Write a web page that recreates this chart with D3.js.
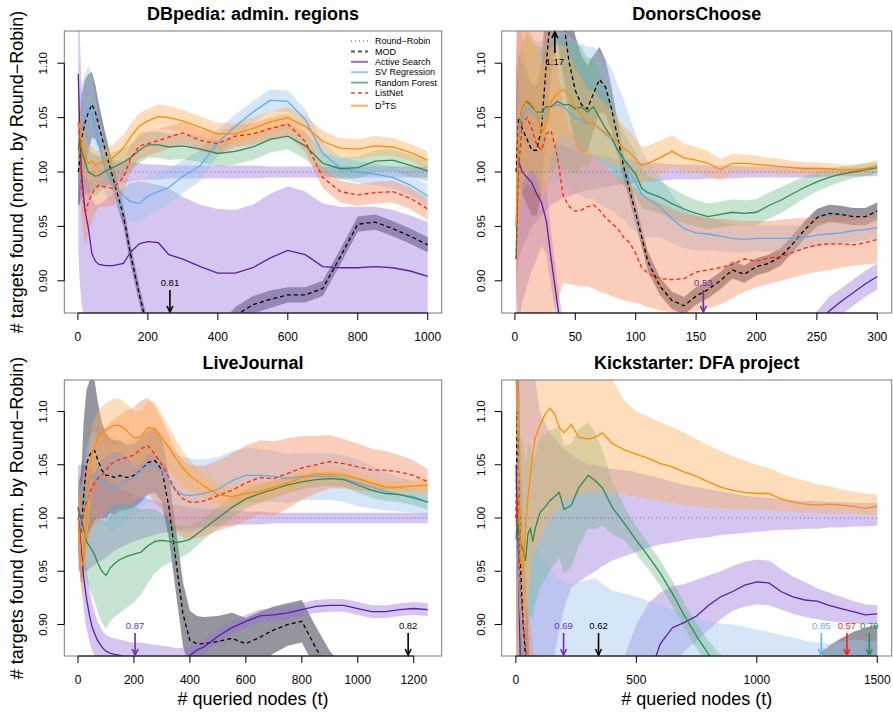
<!DOCTYPE html>
<html>
<head>
<meta charset="utf-8">
<script src="https://cdn.jsdelivr.net/npm/d3@7"></script>
<style>
body { margin: 0; background: #fff; }
svg { font-family: "Liberation Sans", Arial, Helvetica, sans-serif; }
</style>
</head>
<body>
<div id="chart"></div>
<script>
// ----------------
// DATA
// ----------------

const seriesKeys = ["rr", "mod", "as", "sv", "rf", "ln", "d3"];
const seriesNames = ["Round\u2212Robin", "MOD", "Active Search", "SV Regression", "Random Forest", "ListNet", "D3TS"];
const yTicks = [0.90, 0.95, 1.00, 1.05, 1.10];
const yRange = [0.88, 1.12];
const rrLevel = 1.0;

// --- DBpedia: admin. regions
const t_dbp = [1,5,10,20,30,40,50,60,80,100, 130,150,175,200,230,260,300,350,400,450, 500,550,600,650,700,750,800,850,900,950, 1000];
const xt_dbp = [0,200,400,600,800,1000];
const dbp_rr_w = [0.03,0.03,0.025,0.02,0.02,0.018,0.016,0.015,0.013,0.011, 0.01,0.009,0.008,0.007,0.007,0.006,0.006,0.006,0.006,0.006, 0.006,0.005,0.005,0.005,0.005,0.005,0.005,0.005,0.005,0.005, 0.005];
const dbp_mod = [1.0,1.01,1.03,1.045,1.055,1.062,1.055,1.042,1.018,0.995, 0.96,0.925,0.888,0.855,0.83,0.81,0.815,0.83,0.85,0.868, 0.878,0.883,0.887,0.887,0.893,0.922,0.952,0.954,0.948,0.941, 0.933];
const dbp_mod_w = [0.03,0.04,0.04,0.04,0.035,0.03,0.025,0.02,0.015,0.012, 0.01,0.009,0.008,0.008,0.008,0.008,0.008,0.008,0.008,0.008, 0.008,0.008,0.007,0.007,0.007,0.007,0.007,0.007,0.007,0.007, 0.007];
const dbp_as = [1.09,1.04,1.0,0.965,0.948,0.925,0.918,0.915,0.914,0.914, 0.916,0.926,0.934,0.936,0.935,0.924,0.92,0.913,0.907,0.907, 0.912,0.921,0.928,0.924,0.913,0.912,0.912,0.913,0.912,0.909, 0.904];
const dbp_as_lo = [0.93,0.9,0.88,0.86,0.8,0.8,0.8,0.8,0.8,0.8, 0.8,0.8,0.8,0.8,0.8,0.8,0.8,0.8,0.8,0.8, 0.8,0.8,0.8,0.8,0.8,0.8,0.8,0.8,0.8,0.8, 0.8];
const dbp_as_hi = [1.13,1.13,1.08,1.02,0.99,0.975,0.97,0.97,0.975,0.98, 0.985,0.99,0.992,0.99,0.988,0.985,0.977,0.97,0.966,0.965, 0.97,0.98,0.987,0.982,0.971,0.968,0.968,0.968,0.965,0.96, 0.954];
const dbp_sv = [1.02,1.03,1.04,1.05,1.058,1.055,1.04,1.025,1.0,0.99, 0.978,0.973,0.971,0.978,0.982,0.986,0.996,1.006,1.027,1.042, 1.055,1.066,1.065,1.048,1.017,1.004,1.0,0.998,0.995,0.988, 0.978];
const dbp_sv_w = [0.04,0.04,0.04,0.04,0.04,0.035,0.03,0.025,0.022,0.02, 0.018,0.018,0.018,0.018,0.017,0.016,0.015,0.014,0.012,0.011, 0.01,0.01,0.01,0.01,0.01,0.01,0.01,0.01,0.01,0.01, 0.01];
const dbp_rf = [1.02,1.03,1.02,1.01,1.0,0.998,0.996,0.997,1.001,1.004, 1.009,1.013,1.02,1.025,1.025,1.023,1.024,1.021,1.017,1.019, 1.023,1.03,1.033,1.024,1.008,1.003,1.004,1.01,1.011,1.006, 1.001];
const dbp_rf_w = [0.03,0.03,0.03,0.025,0.022,0.02,0.018,0.016,0.015,0.014, 0.013,0.012,0.012,0.012,0.012,0.012,0.012,0.012,0.012,0.012, 0.012,0.012,0.012,0.012,0.01,0.01,0.01,0.01,0.01,0.01, 0.01];
const dbp_ln = [1.045,1.03,0.99,0.962,0.972,0.98,0.985,0.988,0.986,0.985, 0.995,1.012,1.024,1.026,1.029,1.032,1.036,1.029,1.026,1.033, 1.035,1.04,1.044,1.028,0.995,0.982,0.979,0.981,0.982,0.976, 0.966];
const dbp_ln_w = [0.03,0.03,0.03,0.03,0.028,0.025,0.022,0.02,0.018,0.016, 0.014,0.012,0.012,0.011,0.011,0.01,0.01,0.01,0.01,0.01, 0.01,0.01,0.01,0.01,0.01,0.01,0.01,0.01,0.01,0.01, 0.01];
const dbp_d3 = [1.04,1.045,1.025,1.015,1.008,1.01,1.006,1.008,1.011,1.013, 1.022,1.032,1.042,1.047,1.051,1.05,1.047,1.041,1.035,1.035, 1.04,1.046,1.05,1.042,1.028,1.022,1.021,1.024,1.023,1.018, 1.011];
const dbp_d3_w = [0.03,0.03,0.025,0.02,0.016,0.014,0.013,0.012,0.012,0.012, 0.012,0.012,0.012,0.011,0.011,0.011,0.01,0.01,0.01,0.01, 0.01,0.01,0.01,0.01,0.01,0.009,0.009,0.009,0.008,0.008, 0.008];
const dbp_arrows = [["mod", 263, "0.81"]];

// --- DonorsChoose
const t_dc = [1,3,6,10,14,18,22,26,30, 35,40,45,50,55,60,65,70,75,80,85,90,95,100, 105,110, 120,130,140,150,160,170,180,190,200,210,220,230,240,250,260,270,280,290,300];
const xt_dc = [0,50,100,150,200,250,300];
const dc_rr_w = [0.1,0.08,0.07,0.06,0.05,0.045,0.04,0.035,0.03, 0.027,0.024,0.022,0.02,0.018,0.017,0.016,0.015,0.014,0.013,0.012,0.011,0.011,0.01, 0.009,0.009, 0.008,0.007,0.007,0.007,0.006,0.006,0.006,0.005,0.005,0.005,0.005,0.005,0.005,0.005,0.004,0.004,0.004,0.004,0.004];
const dc_mod = [1.0,1.05,1.04,1.03,1.02,1.02,1.04,1.1,1.15, 1.17,1.14,1.1,1.075,1.062,1.058,1.072,1.085,1.078,1.058,1.032,1.005,0.983,0.962, 0.94,0.918, 0.895,0.882,0.877,0.886,0.892,0.9,0.91,0.906,0.913,0.916,0.922,0.934,0.947,0.958,0.962,0.961,0.959,0.959,0.964];
const dc_mod_w = [0.06,0.06,0.06,0.06,0.06,0.06,0.06,0.06,0.06, 0.05,0.05,0.05,0.05,0.045,0.04,0.035,0.03,0.025,0.02,0.015,0.012,0.01,0.01, 0.009,0.009, 0.008,0.008,0.008,0.008,0.008,0.008,0.008,0.008,0.008,0.008,0.008,0.008,0.008,0.008,0.008,0.008,0.008,0.008,0.008];
const dc_as = [1.0,1.01,1.0,0.995,0.99,0.98,0.972,0.955,0.92, 0.88,0.84,0.8,0.76,0.72,0.69,0.66,0.64,0.62,0.6,0.59,0.58,0.57,0.56, 0.55,0.545, 0.54,0.535,0.532,0.53,0.53,0.54,0.56,0.6,0.65,0.7,0.75,0.8,0.835,0.858,0.872,0.881,0.889,0.897,0.904];
const dc_as_w = [0.1,0.15,0.12,0.1,0.08,0.06,0.04,0.03,0.025, 0.02,0.02,0.02,0.02,0.02,0.02,0.02,0.02,0.02,0.02,0.02,0.02,0.02,0.02, 0.02,0.02, 0.02,0.02,0.02,0.02,0.02,0.02,0.02,0.02,0.02,0.02,0.02,0.018,0.016,0.014,0.013,0.012,0.012,0.012,0.012];
const dc_sv = [0.95,1.03,1.05,1.06,1.055,1.05,1.05,1.055,1.06, 1.062,1.06,1.055,1.05,1.048,1.045,1.045,1.04,1.035,1.03,1.02,1.012,1.0,0.99, 0.98,0.975, 0.968,0.957,0.948,0.944,0.943,0.941,0.939,0.938,0.939,0.939,0.939,0.939,0.94,0.942,0.943,0.944,0.946,0.947,0.949];
const dc_sv_w = [0.07,0.07,0.07,0.07,0.07,0.07,0.07,0.07,0.07, 0.07,0.07,0.07,0.07,0.07,0.07,0.07,0.07,0.068,0.065,0.06,0.055,0.05,0.045, 0.04,0.035, 0.028,0.022,0.018,0.016,0.015,0.014,0.013,0.012,0.012,0.012,0.012,0.012,0.011,0.011,0.011,0.01,0.01,0.01,0.01];
const dc_rf = [0.92,1.04,1.06,1.065,1.06,1.055,1.055,1.06,1.06, 1.065,1.062,1.062,1.058,1.06,1.055,1.06,1.05,1.04,1.032,1.02,1.012,1.005,0.998, 0.985,0.981, 0.977,0.971,0.966,0.962,0.959,0.961,0.963,0.962,0.963,0.969,0.974,0.98,0.986,0.991,0.995,0.998,1.0,1.002,1.004];
const dc_rf_w = [0.06,0.06,0.06,0.06,0.06,0.06,0.06,0.06,0.06, 0.06,0.06,0.06,0.06,0.055,0.05,0.045,0.04,0.035,0.03,0.028,0.025,0.022,0.02, 0.018,0.016, 0.015,0.014,0.013,0.012,0.012,0.012,0.012,0.012,0.012,0.012,0.012,0.011,0.01,0.009,0.008,0.007,0.006,0.006,0.005];
const dc_ln = [0.92,1.0,1.045,1.05,1.04,1.025,1.02,1.035,1.038, 1.015,0.978,0.968,0.964,0.965,0.968,0.97,0.965,0.958,0.953,0.948,0.94,0.935,0.925, 0.912,0.907, 0.902,0.901,0.902,0.908,0.91,0.912,0.915,0.92,0.918,0.921,0.922,0.926,0.93,0.933,0.934,0.934,0.933,0.935,0.938];
const dc_ln_lo = [0.8,0.8,0.8,0.8,0.8,0.8,0.82,0.84,0.86, 0.88,0.898,0.897,0.896,0.895,0.895,0.893,0.89,0.888,0.886,0.884,0.882,0.881,0.88, 0.878,0.876, 0.873,0.871,0.871,0.872,0.875,0.878,0.884,0.89,0.894,0.897,0.9,0.903,0.906,0.908,0.91,0.912,0.914,0.915,0.916];
const dc_ln_hi = [1.13,1.13,1.13,1.13,1.13,1.13,1.13,1.13,1.13, 1.1,1.06,1.04,1.03,1.025,1.02,1.015,1.01,1.005,1.0,0.995,0.992,0.99,0.985, 0.98,0.977, 0.972,0.966,0.962,0.96,0.958,0.957,0.956,0.955,0.955,0.955,0.956,0.957,0.958,0.958,0.959,0.96,0.96,0.961,0.962];
const dc_d3 = [0.95,1.04,1.06,1.066,1.063,1.055,1.035,1.045,1.065, 1.072,1.076,1.07,1.06,1.052,1.045,1.045,1.04,1.036,1.032,1.028,1.022,1.018,1.012, 1.006,1.008, 1.013,1.019,1.013,1.011,1.008,1.002,1.008,1.008,1.007,1.006,1.005,1.004,1.003,1.003,1.003,1.002,1.002,1.003,1.006];
const dc_d3_w = [0.08,0.08,0.07,0.07,0.06,0.06,0.06,0.06,0.05, 0.045,0.04,0.04,0.035,0.035,0.03,0.03,0.028,0.026,0.024,0.022,0.02,0.02,0.018, 0.017,0.016, 0.016,0.015,0.013,0.012,0.011,0.01,0.009,0.008,0.008,0.007,0.007,0.006,0.006,0.006,0.005,0.005,0.005,0.005,0.005];
const dc_arrows = [["mod", 33, "1.17"], ["as", 156, "0.53"]];

// --- LiveJournal
const t_lj = [1,5,10,15,20,25,30, 40,50,60,70,85, 100,115,130,150,175,200,225,250,275,300, 325,350,375,400,425,450, 500,550,600,650,700,750,800,850,900,950,1000,1050,1100,1150,1200,1250];
const xt_lj = [0,200,400,600,800,1000,1200];
const lj_rr_w = [0.05,0.05,0.05,0.05,0.05,0.05,0.05, 0.048,0.046,0.044,0.042,0.04, 0.037,0.034,0.031,0.028,0.025,0.022,0.02,0.018,0.016,0.014, 0.013,0.012,0.011,0.01,0.009,0.009, 0.008,0.007,0.006,0.006,0.005,0.005,0.005,0.005,0.005,0.005,0.005,0.005,0.005,0.005,0.005,0.005];
const lj_mod = [1.0,0.995,0.99,1.0,1.02,1.035,1.05, 1.058,1.063,1.063,1.055,1.045, 1.04,1.04,1.038,1.04,1.038,1.04,1.045,1.052,1.054,1.045, 1.01,0.96,0.91,0.885,0.882,0.882, 0.884,0.887,0.882,0.888,0.895,0.9,0.903,0.878,0.855,0.84,0.83,0.825,0.822,0.82,0.82,0.822];
const lj_mod_w = [0.03,0.04,0.05,0.06,0.07,0.07,0.07, 0.07,0.07,0.065,0.055,0.045, 0.04,0.035,0.035,0.033,0.03,0.03,0.03,0.03,0.03,0.03, 0.03,0.03,0.03,0.028,0.026,0.025, 0.024,0.024,0.024,0.024,0.022,0.02,0.02,0.02,0.02,0.02,0.02,0.02,0.02,0.02,0.02,0.02];
const lj_as = [1.0,0.99,0.975,0.96,0.945,0.935,0.925, 0.91,0.898,0.891,0.885,0.879, 0.875,0.873,0.872,0.871,0.869,0.868,0.868,0.868,0.868,0.868, 0.868,0.868,0.869,0.871,0.876,0.879, 0.889,0.897,0.903,0.908,0.909,0.911,0.914,0.917,0.918,0.918,0.915,0.912,0.912,0.914,0.915,0.914];
const lj_as_w = [0.03,0.03,0.03,0.03,0.03,0.03,0.028, 0.025,0.022,0.02,0.018,0.016, 0.015,0.015,0.015,0.015,0.015,0.015,0.015,0.014,0.013,0.012, 0.011,0.01,0.009,0.008,0.008,0.007, 0.007,0.006,0.006,0.006,0.006,0.006,0.006,0.006,0.006,0.006,0.006,0.006,0.006,0.006,0.006,0.006];
const lj_sv = [1.01,1.0,0.99,0.995,1.005,1.015,1.025, 1.035,1.04,1.04,1.038,1.035, 1.03,1.028,1.028,1.031,1.035,1.038,1.045,1.05,1.049,1.043, 1.034,1.026,1.022,1.021,1.022,1.023, 1.027,1.035,1.04,1.04,1.039,1.037,1.039,1.039,1.039,1.037,1.033,1.029,1.025,1.022,1.02,1.015];
const lj_sv_w = [0.04,0.04,0.04,0.04,0.04,0.04,0.04, 0.04,0.04,0.04,0.04,0.04, 0.04,0.04,0.04,0.04,0.038,0.036,0.035,0.035,0.035,0.035, 0.035,0.035,0.035,0.035,0.033,0.032, 0.03,0.028,0.026,0.025,0.024,0.023,0.022,0.022,0.022,0.022,0.022,0.02,0.018,0.016,0.015,0.014];
const lj_rf = [1.01,1.005,1.0,0.995,0.99,0.985,0.978, 0.974,0.97,0.965,0.958,0.95, 0.946,0.953,0.957,0.961,0.964,0.966,0.968,0.974,0.978,0.979, 0.978,0.977,0.978,0.98,0.985,0.99, 1.0,1.01,1.018,1.023,1.027,1.031,1.034,1.036,1.037,1.036,1.031,1.026,1.023,1.022,1.019,1.015];
const lj_rf_w = [0.03,0.03,0.03,0.032,0.034,0.036,0.038, 0.04,0.042,0.044,0.046,0.048, 0.05,0.05,0.05,0.05,0.048,0.045,0.04,0.035,0.03,0.025, 0.02,0.017,0.014,0.012,0.011,0.01, 0.01,0.01,0.009,0.009,0.008,0.008,0.007,0.007,0.007,0.007,0.007,0.007,0.007,0.007,0.007,0.007];
const lj_ln = [1.01,0.99,0.985,0.995,1.005,1.01,1.015, 1.022,1.03,1.033,1.037,1.04, 1.045,1.05,1.053,1.055,1.057,1.059,1.065,1.068,1.06,1.05, 1.038,1.025,1.018,1.015,1.015,1.016, 1.021,1.026,1.033,1.038,1.037,1.042,1.047,1.05,1.053,1.051,1.048,1.045,1.045,1.043,1.04,1.034];
const lj_ln_w = [0.04,0.04,0.04,0.04,0.04,0.04,0.04, 0.04,0.04,0.04,0.04,0.04, 0.04,0.04,0.04,0.042,0.044,0.045,0.045,0.045,0.045,0.042, 0.04,0.038,0.036,0.035,0.034,0.033, 0.033,0.034,0.035,0.035,0.035,0.033,0.03,0.027,0.025,0.023,0.022,0.02,0.018,0.016,0.014,0.012];
const lj_d3 = [1.0,0.985,0.965,0.955,0.96,0.98,1.0, 1.035,1.06,1.068,1.075,1.08, 1.083,1.085,1.087,1.087,1.082,1.075,1.076,1.085,1.084,1.075, 1.066,1.056,1.047,1.04,1.035,1.03, 1.022,1.02,1.023,1.025,1.029,1.033,1.038,1.041,1.041,1.04,1.037,1.033,1.029,1.029,1.03,1.031];
const lj_d3_w = [0.03,0.03,0.03,0.03,0.03,0.03,0.03, 0.03,0.028,0.026,0.025,0.025, 0.025,0.025,0.025,0.025,0.025,0.025,0.025,0.025,0.025,0.022, 0.02,0.018,0.016,0.014,0.012,0.011, 0.01,0.009,0.009,0.008,0.008,0.008,0.008,0.008,0.007,0.007,0.007,0.006,0.006,0.006,0.006,0.006];
const lj_arrows = [["as", 204, "0.87"], ["mod", 1180, "0.82"]];

// --- Kickstarter: DFA project
const t_ks = [1,5,10,15,20,30,40,50,60,70,80, 100,120,140,160,180,200,230,260,300,330,360,400, 450,500,550,600,650,700,750,800,850,900,950,1000,1050,1100,1150,1200,1250,1300,1350,1400,1450,1500];
const xt_ks = [0,500,1000,1500];
const ks_rr_lo = [0.6,0.6,0.6,0.6,0.6,0.62,0.65,0.68,0.7,0.72,0.74, 0.78,0.81,0.84,0.87,0.895,0.915,0.935,0.94,0.946,0.95,0.955,0.96, 0.964,0.968,0.972,0.975,0.977,0.979,0.981,0.982,0.984,0.985,0.986,0.987,0.988,0.989,0.989,0.99,0.99,0.991,0.991,0.992,0.992,0.993];
const ks_rr_hi = [1.13,1.13,1.13,1.13,1.13,1.13,1.13,1.13,1.13,1.13,1.13, 1.1,1.09,1.08,1.075,1.07,1.065,1.06,1.055,1.05,1.05,1.048,1.046, 1.045,1.043,1.04,1.037,1.034,1.031,1.029,1.027,1.025,1.023,1.021,1.02,1.019,1.018,1.017,1.016,1.016,1.015,1.015,1.014,1.014,1.014];
const ks_mod = [1.0,1.1,1.05,1.0,0.95,0.9,0.87,0.84,0.8,0.77,0.75, 0.72,0.7,0.68,0.66,0.65,0.64,0.63,0.625,0.62,0.62,0.625,0.63, 0.64,0.65,0.66,0.67,0.68,0.69,0.7,0.71,0.72,0.735,0.75,0.765,0.78,0.795,0.808,0.82,0.83,0.84,0.847,0.853,0.857,0.86];
const ks_mod_w = [0.1,0.12,0.12,0.1,0.09,0.08,0.07,0.06,0.05,0.05,0.05, 0.05,0.05,0.05,0.05,0.05,0.05,0.05,0.05,0.05,0.05,0.05,0.05, 0.04,0.04,0.04,0.04,0.04,0.04,0.04,0.04,0.04,0.04,0.04,0.04,0.04,0.04,0.04,0.04,0.04,0.04,0.04,0.04,0.04,0.04];
const ks_as = [1.05,1.0,0.95,0.9,0.85,0.8,0.76,0.74,0.72,0.71,0.7, 0.695,0.692,0.69,0.69,0.69,0.69,0.695,0.7,0.71,0.72,0.735,0.75, 0.775,0.81,0.85,0.882,0.897,0.902,0.908,0.918,0.926,0.931,0.937,0.94,0.939,0.931,0.926,0.923,0.922,0.918,0.915,0.912,0.909,0.91];
const ks_as_lo = [0.9,0.85,0.8,0.75,0.7,0.65,0.6,0.6,0.6,0.6,0.6, 0.6,0.6,0.6,0.6,0.6,0.6,0.6,0.6,0.6,0.6,0.6,0.6, 0.7,0.75,0.79,0.83,0.86,0.875,0.885,0.895,0.905,0.913,0.917,0.919,0.918,0.914,0.91,0.907,0.905,0.903,0.902,0.901,0.9,0.901];
const ks_as_hi = [1.13,1.13,1.1,1.05,1.0,0.95,0.9,0.87,0.85,0.84,0.83, 0.82,0.81,0.8,0.8,0.8,0.8,0.8,0.8,0.8,0.8,0.81,0.83, 0.87,0.9,0.92,0.93,0.936,0.938,0.942,0.946,0.95,0.955,0.959,0.961,0.96,0.952,0.945,0.94,0.934,0.93,0.926,0.922,0.919,0.918];
const ks_sv = [1.0,0.97,0.95,0.92,0.9,0.86,0.83,0.8,0.78,0.77,0.76, 0.75,0.75,0.75,0.75,0.75,0.75,0.75,0.75,0.75,0.75,0.75,0.75, 0.75,0.76,0.77,0.78,0.79,0.8,0.8,0.8,0.81,0.81,0.82,0.82,0.83,0.83,0.84,0.84,0.85,0.85,0.85,0.85,0.85,0.85];
const ks_sv_lo = [0.8,0.7,0.6,0.6,0.6,0.6,0.6,0.6,0.6,0.6,0.6, 0.6,0.6,0.6,0.6,0.6,0.6,0.6,0.6,0.6,0.6,0.6,0.6, 0.6,0.6,0.6,0.6,0.6,0.6,0.6,0.6,0.6,0.6,0.6,0.6,0.6,0.6,0.6,0.6,0.6,0.6,0.6,0.6,0.6,0.6];
const ks_sv_hi = [1.13,1.13,1.1,1.07,1.05,1.02,1.0,0.99,0.985,0.98,0.975, 0.965,0.958,0.952,0.948,0.944,0.94,0.938,0.94,0.942,0.944,0.938,0.932, 0.929,0.926,0.922,0.918,0.914,0.91,0.906,0.903,0.901,0.9,0.898,0.895,0.893,0.89,0.888,0.885,0.883,0.882,0.884,0.886,0.885,0.884];
const ks_rf = [0.98,1.0,0.99,0.985,0.975,0.97,0.96,0.985,0.99,0.978,0.99, 1.005,1.01,1.016,1.02,1.024,1.008,1.012,1.028,1.04,1.035,1.028,1.01, 0.995,0.979,0.964,0.948,0.929,0.908,0.889,0.872,0.86,0.85,0.84,0.83,0.82,0.815,0.81,0.805,0.8,0.8,0.795,0.79,0.79,0.79];
const ks_rf_w = [0.1,0.1,0.1,0.1,0.1,0.1,0.09,0.085,0.08,0.075,0.07, 0.07,0.068,0.066,0.064,0.062,0.06,0.058,0.055,0.05,0.045,0.035,0.025, 0.016,0.013,0.012,0.012,0.012,0.012,0.012,0.012,0.012,0.012,0.012,0.012,0.012,0.012,0.012,0.012,0.012,0.012,0.012,0.012,0.012,0.012];
const ks_ln = [1.0,1.02,0.98,0.95,0.93,0.9,0.88,0.86,0.84,0.82,0.8, 0.77,0.74,0.72,0.7,0.68,0.67,0.65,0.64,0.63,0.62,0.61,0.6, 0.59,0.585,0.58,0.578,0.575,0.573,0.572,0.571,0.57,0.57,0.57,0.57,0.57,0.57,0.57,0.57,0.57,0.57,0.57,0.57,0.57,0.57];
const ks_ln_w = [0.12,0.12,0.1,0.09,0.08,0.07,0.06,0.06,0.06,0.06,0.06, 0.06,0.06,0.06,0.06,0.06,0.06,0.06,0.06,0.06,0.06,0.06,0.06, 0.06,0.06,0.06,0.06,0.06,0.06,0.06,0.06,0.06,0.06,0.06,0.06,0.06,0.06,0.06,0.06,0.06,0.06,0.06,0.06,0.06,0.06];
const ks_d3 = [1.13,1.1,1.05,1.0,0.96,0.95,0.99,1.02,1.04,1.06,1.075, 1.087,1.097,1.103,1.098,1.085,1.08,1.088,1.076,1.074,1.076,1.08,1.07, 1.064,1.06,1.056,1.051,1.048,1.043,1.039,1.034,1.029,1.026,1.024,1.023,1.023,1.018,1.015,1.013,1.012,1.013,1.012,1.011,1.009,1.011];
const ks_d3_lo = [0.87,0.87,0.87,0.87,0.87,0.88,0.9,0.92,0.94,0.96,0.97, 0.98,0.99,1.0,1.005,1.01,1.015,1.02,1.022,1.025,1.025,1.025,1.024, 1.022,1.02,1.018,1.016,1.014,1.012,1.011,1.01,1.009,1.008,1.008,1.007,1.007,1.006,1.006,1.005,1.005,1.004,1.004,1.004,1.003,1.003];
const ks_d3_hi = [1.13,1.13,1.13,1.13,1.13,1.13,1.13,1.13,1.13,1.13,1.13, 1.13,1.13,1.13,1.13,1.13,1.13,1.13,1.13,1.13,1.13,1.13,1.13, 1.11,1.1,1.095,1.09,1.085,1.08,1.074,1.068,1.063,1.058,1.054,1.05,1.047,1.042,1.038,1.035,1.032,1.03,1.027,1.025,1.023,1.022];
const ks_arrows = [["as", 198, "0.69"], ["mod", 343, "0.62"], ["sv", 1268, "0.85"], ["ln", 1374, "0.57"], ["rf", 1467, "0.79"]];

// ----------------
// STYLE
// ----------------
const style = {
    rr:  {line: "#6a5acd", band: "#9370db", op: 0.40, dash: "1,3"},
    mod: {line: "#000000", band: "#2b2b3b", op: 0.50, dash: "4,3"},
    as:  {line: "#5d1f9f", band: "#9370db", op: 0.40, dash: null},
    sv:  {line: "#5cacee", band: "#9cc3ef", op: 0.42, dash: null},
    rf:  {line: "#2e8b57", band: "#6db58a", op: 0.38, dash: null},
    ln:  {line: "#ff2200", band: "#f58a60", op: 0.42, dash: "4,3"},
    d3:  {line: "#ff8c00", band: "#fdb05a", op: 0.42, dash: null}
};
const arrowColor = {mod: "#000000", as: "#6a30b0", sv: "#5ab4f0", ln: "#ff1a1a", rf: "#2e8b57"};

const panels = [
    {title: "DBpedia: admin. regions", t: t_dbp, xticks: xt_dbp, box: [64.3, 441.7, 31, 313],
     s: {rr: {w: dbp_rr_w}, mod: {m: dbp_mod, w: dbp_mod_w}, as: {m: dbp_as, lo: dbp_as_lo, hi: dbp_as_hi},
         sv: {m: dbp_sv, w: dbp_sv_w}, rf: {m: dbp_rf, w: dbp_rf_w}, ln: {m: dbp_ln, w: dbp_ln_w}, d3: {m: dbp_d3, w: dbp_d3_w}},
     arrows: dbp_arrows, ylab: true, xlab: false, legend: true},
    {title: "DonorsChoose", t: t_dc, xticks: xt_dc, box: [501.7, 891.7, 31, 313],
     s: {rr: {w: dc_rr_w}, mod: {m: dc_mod, w: dc_mod_w}, as: {m: dc_as, w: dc_as_w},
         sv: {m: dc_sv, w: dc_sv_w}, rf: {m: dc_rf, w: dc_rf_w}, ln: {m: dc_ln, lo: dc_ln_lo, hi: dc_ln_hi}, d3: {m: dc_d3, w: dc_d3_w}},
     arrows: dc_arrows, ylab: false, xlab: false, legend: false},
    {title: "LiveJournal", t: t_lj, xticks: xt_lj, box: [64.3, 441.7, 380, 656],
     s: {rr: {w: lj_rr_w}, mod: {m: lj_mod, w: lj_mod_w}, as: {m: lj_as, w: lj_as_w},
         sv: {m: lj_sv, w: lj_sv_w}, rf: {m: lj_rf, w: lj_rf_w}, ln: {m: lj_ln, w: lj_ln_w}, d3: {m: lj_d3, w: lj_d3_w}},
     arrows: lj_arrows, ylab: true, xlab: true, legend: false},
    {title: "Kickstarter: DFA project", t: t_ks, xticks: xt_ks, box: [501.7, 891.7, 380, 656],
     s: {rr: {lo: ks_rr_lo, hi: ks_rr_hi}, mod: {m: ks_mod, w: ks_mod_w}, as: {m: ks_as, lo: ks_as_lo, hi: ks_as_hi},
         sv: {m: ks_sv, lo: ks_sv_lo, hi: ks_sv_hi}, rf: {m: ks_rf, w: ks_rf_w}, ln: {m: ks_ln, w: ks_ln_w}, d3: {m: ks_d3, lo: ks_d3_lo, hi: ks_d3_hi}},
     arrows: ks_arrows, ylab: false, xlab: true, legend: false}
];

// ----------------
// DRAW
// ----------------
const svg = d3.select("#chart")
    .append("svg")
    .attr("width", 893)
    .attr("height", 715);

// R style 4% axis extension
const ext = (a, b) => [a - 0.04 * (b - a), b + 0.04 * (b - a)];

panels.forEach((p, pi) => {
    const [x0, x1, y0, y1] = p.box;
    const tmax = p.t[p.t.length - 1];
    const x = d3.scaleLinear().domain(ext(1, tmax)).range([x0, x1]);
    const y = d3.scaleLinear().domain(ext(yRange[0], yRange[1])).range([y1, y0]);

    svg.append("clipPath").attr("id", "clip" + pi)
        .append("rect").attr("x", x0).attr("y", y0).attr("width", x1 - x0).attr("height", y1 - y0);

    const plot = svg.append("g").attr("clip-path", `url(#clip${pi})`);

    // rows for every series
    const rows = {};
    seriesKeys.forEach(k => {
        const s = p.s[k];
        rows[k] = p.t.map((t, i) => {
            const m = s.m ? s.m[i] : rrLevel;
            return {
                t: t,
                m: m,
                lo: s.lo ? s.lo[i] : m - s.w[i],
                hi: s.hi ? s.hi[i] : m + s.w[i]
            };
        });
    });

    const area = d3.area().x(d => x(d.t)).y0(d => y(d.lo)).y1(d => y(d.hi));
    const line = d3.line().x(d => x(d.t)).y(d => y(d.m));

    // bands first
    seriesKeys.forEach(k => {
        plot.append("path")
            .datum(rows[k])
            .attr("d", area)
            .attr("fill", style[k].band)
            .attr("fill-opacity", style[k].op)
            .attr("stroke", "none");
    });

    // mean lines
    seriesKeys.forEach(k => {
        plot.append("path")
            .datum(rows[k])
            .attr("d", line)
            .attr("fill", "none")
            .attr("stroke", style[k].line)
            .attr("stroke-width", k === "rr" ? 1.2 : 1.3)
            .attr("stroke-dasharray", style[k].dash);
    });

    // box
    svg.append("rect")
        .attr("x", x0).attr("y", y0)
        .attr("width", x1 - x0).attr("height", y1 - y0)
        .attr("fill", "none").attr("stroke", "#7a7a7a").attr("stroke-width", 1);

    // y axis
    const ya = svg.append("g");
    ya.append("line")
        .attr("x1", x0).attr("x2", x0)
        .attr("y1", y(yTicks[0])).attr("y2", y(yTicks[yTicks.length - 1]))
        .attr("stroke", "#000");
    yTicks.forEach(v => {
        ya.append("line").attr("x1", x0 - 7).attr("x2", x0)
            .attr("y1", y(v)).attr("y2", y(v)).attr("stroke", "#000");
        ya.append("text")
            .attr("transform", `translate(${x0 - 17},${y(v)}) rotate(-90)`)
            .attr("text-anchor", "middle")
            .attr("font-size", 11.5)
            .text(v.toFixed(2));
    });

    // x axis
    const xa = svg.append("g");
    xa.append("line")
        .attr("x1", x(p.xticks[0])).attr("x2", x(p.xticks[p.xticks.length - 1]))
        .attr("y1", y1).attr("y2", y1)
        .attr("stroke", "#000");
    p.xticks.forEach(v => {
        xa.append("line").attr("x1", x(v)).attr("x2", x(v))
            .attr("y1", y1).attr("y2", y1 + 7).attr("stroke", "#000");
        xa.append("text")
            .attr("x", x(v)).attr("y", y1 + 28)
            .attr("text-anchor", "middle")
            .attr("font-size", 12)
            .text(v);
    });

    // arrows for curves that leave the window
    p.arrows.forEach(a => {
        const [k, t, lab] = a;
        const ax = x(t);
        const col = arrowColor[k];
        const up = parseFloat(lab) > 1;
        const g = svg.append("g").attr("stroke", col).attr("stroke-width", 1.6).attr("fill", "none");
        if (up) {
            g.append("line").attr("x1", ax).attr("x2", ax).attr("y1", y0 + 22).attr("y2", y0 + 1);
            g.append("path").attr("d", `M${ax - 3},${y0 + 7}L${ax},${y0 + 1}L${ax + 3},${y0 + 7}`);
            svg.append("text").attr("x", ax).attr("y", y0 + 34).attr("text-anchor", "middle")
                .attr("font-size", 9.5).attr("fill", col).text(lab);
        } else {
            g.append("line").attr("x1", ax).attr("x2", ax).attr("y1", y1 - 23).attr("y2", y1 - 1);
            g.append("path").attr("d", `M${ax - 3},${y1 - 7}L${ax},${y1 - 1}L${ax + 3},${y1 - 7}`);
            svg.append("text").attr("x", ax).attr("y", y1 - 27).attr("text-anchor", "middle")
                .attr("font-size", 9.5).attr("fill", col).text(lab);
        }
    });

    // title
    svg.append("text")
        .attr("x", (x0 + x1) / 2).attr("y", y0 - 11)
        .attr("text-anchor", "middle")
        .attr("font-size", 18).attr("font-weight", "bold")
        .text(p.title);

    if (p.ylab) {
        svg.append("text")
            .attr("transform", `translate(23,${(y0 + y1) / 2}) rotate(-90)`)
            .attr("text-anchor", "middle")
            .attr("font-size", 18)
            .text("# targets found (norm. by Round\u2212Robin)");
    }
    if (p.xlab) {
        svg.append("text")
            .attr("x", (x0 + x1) / 2).attr("y", 705)
            .attr("text-anchor", "middle")
            .attr("font-size", 18)
            .text("# queried nodes (t)");
    }

    if (p.legend) {
        const lg = svg.append("g");
        seriesKeys.forEach((k, i) => {
            const ly = 41 + i * 10.4 + (i === 6 ? 2.3 : 0);
            lg.append("line")
                .attr("x1", 351).attr("x2", 368).attr("y1", ly).attr("y2", ly)
                .attr("stroke", style[k].line).attr("stroke-opacity", 0.65)
                .attr("stroke-width", 2)
                .attr("stroke-dasharray", style[k].dash);
            const tx = lg.append("text")
                .attr("x", 375).attr("y", ly + 3.2)
                .attr("font-size", 9);
            if (k === "d3") {
                tx.append("tspan").text("D");
                tx.append("tspan").attr("font-size", 6).attr("dy", -4).text("3");
                tx.append("tspan").attr("dy", 4).text("TS");
            } else {
                tx.text(seriesNames[i]);
            }
        });
    }
});
</script>
</body>
</html>
